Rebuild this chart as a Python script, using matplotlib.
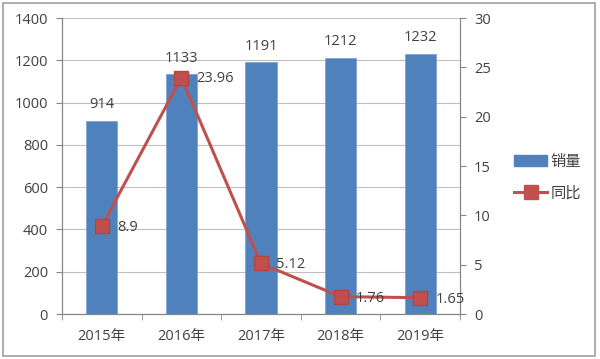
import matplotlib
matplotlib.use("Agg")
import matplotlib.pyplot as plt
from matplotlib.patches import Rectangle
from matplotlib.lines import Line2D
from matplotlib.patches import Patch

plt.rcParams['font.family'] = ['Open Sans', 'Noto Sans CJK SC', 'DejaVu Sans']

years = ["2015年", "2016年", "2017年", "2018年", "2019年"]
sales = [914, 1133, 1191, 1212, 1232]
yoy = [8.9, 23.96, 5.12, 1.76, 1.65]
yoy_labels = ["8.9", "23.96", "5.12", "1.76", "1.65"]

bar_color = "#4F81BD"
line_color = "#C0504D"
spine_color = "#868686"
grid_color = "#BFBFBF"
text_color = "#404040"
fs = 10.5

fig = plt.figure(figsize=(6.0, 3.59), dpi=100)
ax = fig.add_axes([62/600, 1-314/359, 398/600, 296/359])
ax2 = ax.twinx()

x = list(range(len(years)))
ax.bar(x, sales, width=0.39, color=bar_color, edgecolor="#7FA3D0", linewidth=0.6, zorder=2)
ax.set_xlim(-0.5, len(years) - 0.5)
ax.set_ylim(0, 1400)
ax.set_yticks(range(0, 1401, 200))
ax.yaxis.grid(True, color=grid_color, linewidth=0.8, zorder=0)
ax.set_axisbelow(True)
ax.set_xticks(x)
ax.set_xticklabels(years)
ax.set_xticks([i - 0.5 for i in range(len(years) + 1)], minor=True)
ax.tick_params(axis='x', which='major', length=0, labelsize=fs, colors=text_color, pad=11)
ax.tick_params(axis='x', which='minor', length=4, color=spine_color, direction='out')
ax.tick_params(axis='y', length=4, color=spine_color, labelsize=fs, labelcolor=text_color, pad=6)

for s in ['top']:
    ax.spines[s].set_visible(False)
    ax2.spines[s].set_visible(False)
for s in ['left', 'bottom', 'right']:
    ax.spines[s].set_color(spine_color)
    ax2.spines[s].set_color(spine_color)

for xi, v in zip(x, sales):
    ax.annotate(str(v), (xi, v), xytext=(0, 6), textcoords='offset points',
                ha='center', va='bottom', fontsize=fs, color=text_color)

ax2.plot(x, yoy, color=line_color, linewidth=2.2, marker='s', markersize=9.5,
         markerfacecolor=line_color, markeredgecolor="#B04542", zorder=5)
ax2.set_ylim(0, 30)
ax2.set_yticks(range(0, 31, 5))
ax2.tick_params(axis='y', length=4, color=spine_color, labelsize=fs, labelcolor=text_color, pad=6)

for xi, v, lab in zip(x, yoy, yoy_labels):
    ax2.annotate(lab, (xi, v), xytext=(11, -1), textcoords='offset points',
                 ha='left', va='center', fontsize=fs, color=text_color, zorder=6)

handles = [Patch(facecolor=bar_color, edgecolor=bar_color),
           Line2D([0], [0], color=line_color, linewidth=2.2, marker='s', markersize=9.5,
                  markerfacecolor=line_color)]
fig.legend(handles, ["销量", "同比"], loc='center left', bbox_to_anchor=(500/600, 1-178/359),
           frameon=False, fontsize=11, handlelength=2.2, handletextpad=0.2,
           labelspacing=1.1, labelcolor=text_color)

fig.patches.append(Rectangle((3/600, 3/359), 592/600, 353/359, transform=fig.transFigure,
                             fill=False, edgecolor="#A0A0A0", linewidth=1.2))

fig.savefig("out.png", dpi=100)
